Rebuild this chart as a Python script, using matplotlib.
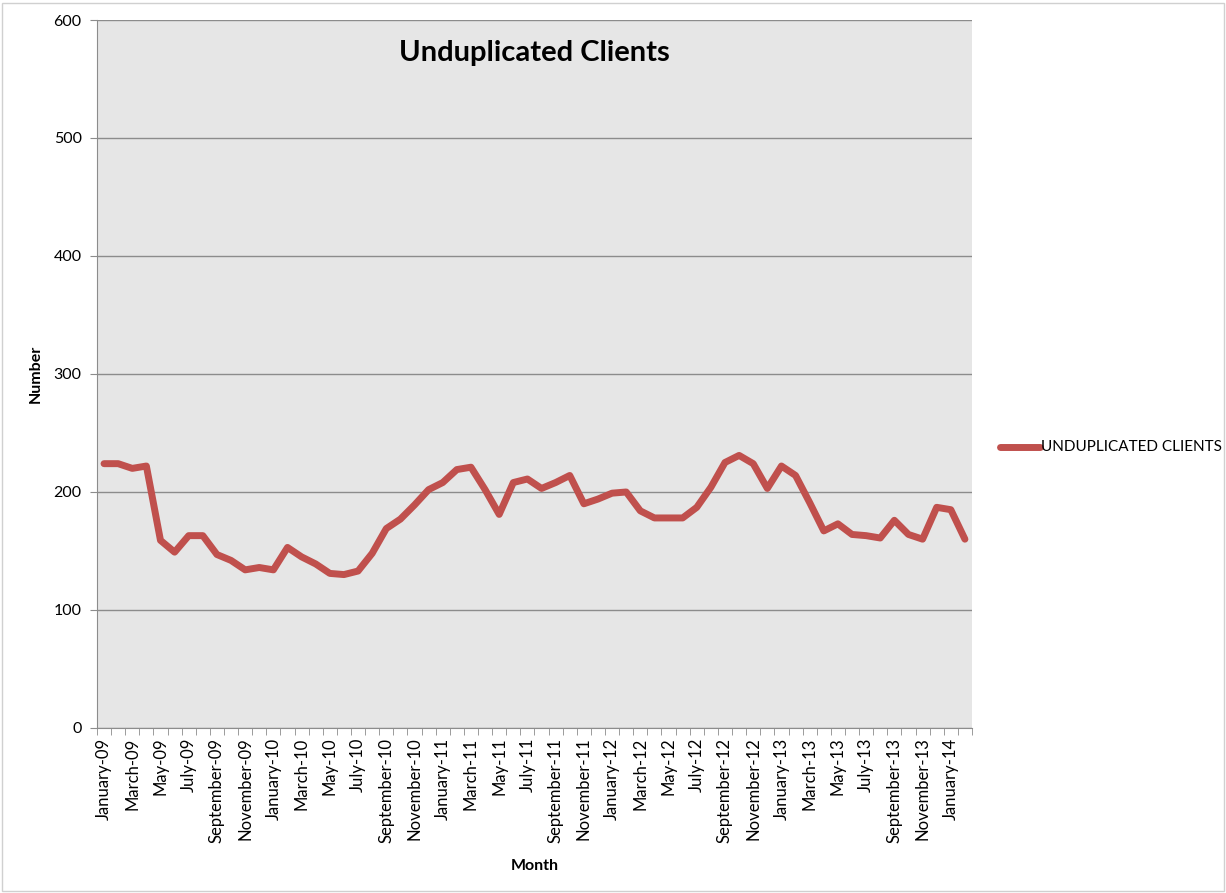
import numpy as np
import matplotlib
matplotlib.use("Agg")
from matplotlib import pyplot as plt
from matplotlib.patches import Rectangle
from matplotlib.lines import Line2D

plt.rcParams['font.family'] = ['Lato', 'DejaVu Sans']

# monthly counts, January-09 .. February-14
month_names = ['January', 'February', 'March', 'April', 'May', 'June', 'July',
               'August', 'September', 'October', 'November', 'December']
years = ['09', '10', '11', '12', '13', '14']
months = [m + '-' + y for y in years for m in month_names][:62]

clients = [224, 224, 220, 222, 159, 149, 163, 163, 147, 142, 134, 136,
           134, 153, 145, 139, 131, 130, 133, 148, 169, 177, 189, 202,
           208, 219, 221, 202, 181, 208, 211, 203, 208, 214, 190, 194,
           199, 200, 184, 178, 178, 178, 187, 204, 225, 231, 224, 203,
           222, 214, 191, 167, 173, 164, 163, 161, 176, 164, 160, 187,
           185, 160]

line_color = '#c0504d'

fig = plt.figure(figsize=(12.26, 8.93), dpi=100)
fig.patches.append(Rectangle((0.002, 0.002), 0.996, 0.995, transform=fig.transFigure,
                             fill=False, edgecolor='#d0d0d0', linewidth=1))

ax = fig.add_axes([0.0791, 0.1848, 0.7137, 0.7928])
ax.set_facecolor('#e6e6e6')

x = np.arange(len(clients))
ax.plot(x, clients, color=line_color, linewidth=5, solid_joinstyle='round',
        solid_capstyle='round')

ax.set_xlim(-0.5, len(clients) - 0.5)
ax.set_ylim(0, 600)
ax.set_yticks(range(0, 601, 100))
ax.yaxis.grid(True, color='#8c8c8c', linewidth=1)
ax.set_axisbelow(True)

# labels on every second month, tick marks between categories
ax.set_xticks(x[::2])
ax.set_xticklabels(months[::2], rotation=90, fontsize=12)
ax.set_xticks(np.arange(-0.5, len(clients)), minor=True)
ax.tick_params(axis='x', which='major', length=0, pad=7)
ax.tick_params(axis='x', which='minor', length=5, color='#8c8c8c')
ax.tick_params(axis='y', length=5, color='#8c8c8c', labelsize=11.5, pad=6)

for side in ['top', 'right']:
    ax.spines[side].set_visible(False)
for side in ['left', 'bottom']:
    ax.spines[side].set_color('#8c8c8c')

ax.set_ylabel('Number', fontsize=11.5, fontweight='bold', labelpad=8)
ax.set_xlabel('Month', fontsize=11.5, fontweight='bold', labelpad=12)
ax.text(0.5, 0.953, 'Unduplicated Clients', transform=ax.transAxes,
        ha='center', va='center', fontsize=21, fontweight='bold')

# legend outside on the right
fig.lines.append(Line2D([1000 / 1226, 1040 / 1226], [1 - 447 / 893, 1 - 447 / 893],
                        transform=fig.transFigure, color=line_color, linewidth=5,
                        solid_capstyle='round'))
fig.text(1041 / 1226, 1 - 447 / 893, 'UNDUPLICATED CLIENTS', fontsize=11,
         va='center', ha='left')

fig.savefig('out.png', dpi=100)
